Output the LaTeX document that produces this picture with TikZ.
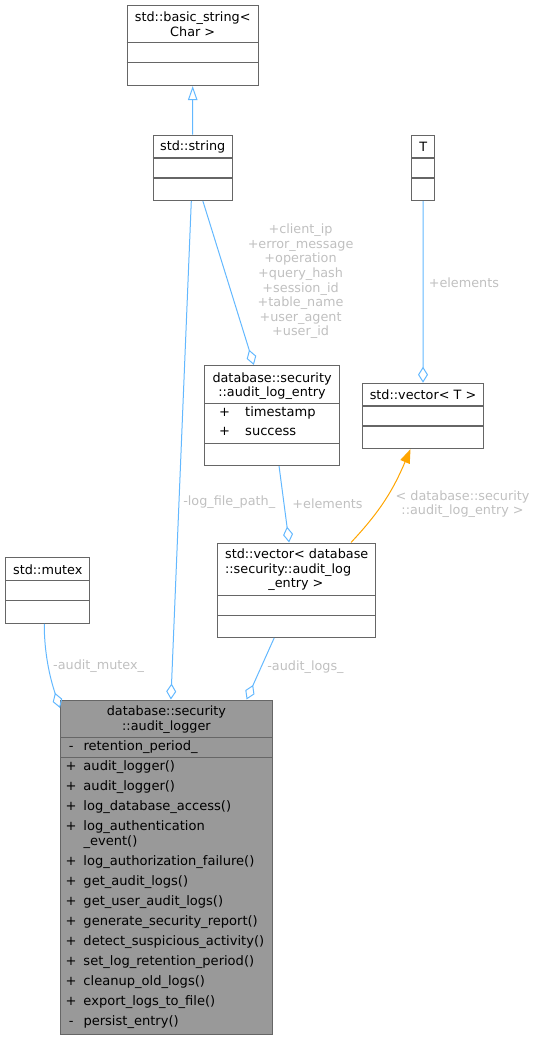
\documentclass[tikz,border=0pt]{standalone}
\usepackage{fontspec}
\setmainfont{DejaVu Sans}
\usetikzlibrary{arrows.meta,positioning}
\definecolor{boxgray}{HTML}{666666}
\definecolor{edgeblue}{HTML}{63B8FF}
\definecolor{tplorange}{HTML}{FFA500}
\definecolor{lblgray}{HTML}{C0C0C0}
\definecolor{mainfill}{HTML}{999999}
\newcommand{\docfont}{\fontsize{12.8}{14.6}\selectfont}
\newcommand{\rowfont}{\fontsize{13.05}{14.6}\selectfont}
\newcommand{\umlrow}[3][6.3pt]{\makebox[12pt]{#2}\hspace{#1}#3}
\tikzset{
  cls/.style={draw=boxgray, line width=1.1pt, anchor=north west, inner sep=0pt, fill=white},
  sep/.style={draw=boxgray, line width=1.1pt},
  title/.style={align=center, inner sep=0pt, font=\docfont},
  member/.style={anchor=west, inner sep=0pt, text height=9.5pt, text depth=2.5pt, font=\rowfont},
  lbl/.style={text=lblgray, align=center, inner sep=0pt, font=\docfont},
  agg/.style={draw=edgeblue, line width=1pt, -{Diamond[open, length=16pt, width=10pt]}},
  inh/.style={draw=edgeblue, line width=1pt, -{Triangle[open, length=14pt, width=9.5pt]}},
  tpl/.style={draw=tplorange, line width=1pt, -{Triangle[length=14pt, width=10pt]}},
}
\begin{document}
\begin{tikzpicture}[x=1pt, y=-1pt]
\useasboundingbox (0,0) rectangle (535,1040);

\node[cls, minimum width=130.9, minimum height=80] (basicstr) at (126.7,5) {};
\draw[sep] ([yshift=-37.7]basicstr.north west) -- ([yshift=-37.7]basicstr.north east);
\draw[sep] ([yshift=-57.7]basicstr.north west) -- ([yshift=-57.7]basicstr.north east);
\node[title] (basicstr-name) at ([yshift=-19]basicstr.north) {std::basic\_string<\\Char >};

\node[cls, minimum width=79.1, minimum height=65.3] (stdstr) at (152.6,134.7) {};
\draw[sep] ([yshift=-23.3]stdstr.north west) -- ([yshift=-23.3]stdstr.north east);
\draw[sep] ([yshift=-43.3]stdstr.north west) -- ([yshift=-43.3]stdstr.north east);
\node[title] (stdstr-name) at ([yshift=-12]stdstr.north) {std::string};

\node[cls, minimum width=22.9, minimum height=65.3] (tparam) at (411.2,134.7) {};
\draw[sep] ([yshift=-23.3]tparam.north west) -- ([yshift=-23.3]tparam.north east);
\draw[sep] ([yshift=-43.3]tparam.north west) -- ([yshift=-43.3]tparam.north east);
\node[title] (tparam-name) at ([yshift=-12]tparam.north) {T};

\node[cls, minimum width=135, minimum height=100] (entry) at (204,365) {};
\draw[sep] ([yshift=-38.3]entry.north west) -- ([yshift=-38.3]entry.north east);
\draw[sep] ([yshift=-78.3]entry.north west) -- ([yshift=-78.3]entry.north east);
\node[title] (entry-name) at ([yshift=-21.2]entry.north) {database::security\\::audit\_log\_entry};
\node[member] (entry-ts) at ([xshift=14.3, yshift=-48.3]entry.north west) {\umlrow[14.7pt]{+}{timestamp}};
\node[member] (entry-ok) at ([xshift=14.3, yshift=-67.3]entry.north west) {\umlrow[14.7pt]{+}{success}};

\node[cls, minimum width=121.3, minimum height=65.3] (vect) at (361.8,382.7) {};
\draw[sep] ([yshift=-23.3]vect.north west) -- ([yshift=-23.3]vect.north east);
\draw[sep] ([yshift=-43.3]vect.north west) -- ([yshift=-43.3]vect.north east);
\node[title] (vect-name) at ([yshift=-11.6]vect.north) {std::vector< T >};

\node[cls, minimum width=157.7, minimum height=94.3] (vecentry) at (217.3,542.5) {};
\draw[sep] ([yshift=-53.2]vecentry.north west) -- ([yshift=-53.2]vecentry.north east);
\draw[sep] ([yshift=-72.8]vecentry.north west) -- ([yshift=-72.8]vecentry.north east);
\node[title, align=left] (vecentry-name) at ([yshift=-27.5]vecentry.north) {std::vector< database\\::security::audit\_log\\\hspace*{43.3pt}\_entry >};

\node[cls, minimum width=84.2, minimum height=65.4] (mutex) at (5.1,557.3) {};
\draw[sep] ([yshift=-23.4]mutex.north west) -- ([yshift=-23.4]mutex.north east);
\draw[sep] ([yshift=-43.4]mutex.north west) -- ([yshift=-43.4]mutex.north east);
\node[title] (mutex-name) at ([yshift=-12]mutex.north) {std::mutex};

\node[cls, fill=mainfill, minimum width=211.7, minimum height=334.8] (logger) at (60,699.5) {};
\draw[sep] ([yshift=-38.2]logger.north west) -- ([yshift=-38.2]logger.north east);
\draw[sep] ([yshift=-58.2]logger.north west) -- ([yshift=-58.2]logger.north east);
\node[title] (logger-name) at ([yshift=-20.2]logger.north) {database::security\\::audit\_logger};
\node[member] (lgr-ret) at ([xshift=5, yshift=-47.2]logger.north west) {\umlrow{-}{retention\_period\_}};
\node[member] (lgr-m1) at ([xshift=5, yshift=-67.2]logger.north west) {\umlrow{+}{audit\_logger()}};
\node[member] (lgr-m2) at ([xshift=5, yshift=-87.2]logger.north west) {\umlrow{+}{audit\_logger()}};
\node[member] (lgr-m3) at ([xshift=5, yshift=-107.2]logger.north west) {\umlrow{+}{log\_database\_access()}};
\node[member] (lgr-m4) at ([xshift=5, yshift=-127.2]logger.north west) {\umlrow{+}{log\_authentication}};
\node[member] (lgr-m4b) at ([xshift=23.3, yshift=-142.2]logger.north west) {\_event()};
\node[member] (lgr-m5) at ([xshift=5, yshift=-162.2]logger.north west) {\umlrow{+}{log\_authorization\_failure()}};
\node[member] (lgr-m6) at ([xshift=5, yshift=-182.2]logger.north west) {\umlrow{+}{get\_audit\_logs()}};
\node[member] (lgr-m7) at ([xshift=5, yshift=-202.2]logger.north west) {\umlrow{+}{get\_user\_audit\_logs()}};
\node[member] (lgr-m8) at ([xshift=5, yshift=-222.2]logger.north west) {\umlrow{+}{generate\_security\_report()}};
\node[member] (lgr-m9) at ([xshift=5, yshift=-242.2]logger.north west) {\umlrow{+}{detect\_suspicious\_activity()}};
\node[member] (lgr-m10) at ([xshift=5, yshift=-262.2]logger.north west) {\umlrow{+}{set\_log\_retention\_period()}};
\node[member] (lgr-m11) at ([xshift=5, yshift=-282.2]logger.north west) {\umlrow{+}{cleanup\_old\_logs()}};
\node[member] (lgr-m12) at ([xshift=5, yshift=-302.2]logger.north west) {\umlrow{+}{export\_logs\_to\_file()}};
\node[member] (lgr-m13) at ([xshift=5, yshift=-322.2]logger.north west) {\umlrow{-}{persist\_entry()}};

\draw[inh] (stdstr.north) -- (basicstr.south);
\draw[agg] ([xshift=-1.4]stdstr.south) -- node[lbl, pos=0.605, anchor=west, xshift=3.8pt] (lfp-lbl) {-log\_file\_path\_} ([xshift=4.5]logger.north);
\draw[agg] ([xshift=10.2]stdstr.south) -- node[lbl, pos=0.49, anchor=west, xshift=19.4pt] (fields-lbl) {+client\_ip\\+error\_message\\+operation\\+query\_hash\\+session\_id\\+table\_name\\+user\_agent\\+user\_id} ([xshift=-18.2]entry.north);
\draw[agg] (tparam.south) -- node[lbl, pos=0.447, anchor=west, xshift=5.2pt] (tparam-lbl) {+elements} (vect.north);
\draw[agg] ([xshift=7]entry.south) -- node[lbl, pos=0.486, anchor=west, xshift=8pt] (entry-lbl) {+elements} ([xshift=-7.6]vecentry.north);
\draw[tpl] ([xshift=54.3]vecentry.north) .. controls +(30,-32) and +(-17,40) .. node[lbl, pos=0.5, anchor=west, xshift=9.5pt, yshift=-5.3pt] (tpl-lbl) {< database::security\\::audit\_log\_entry >} ([xshift=-12.5]vect.south);
\draw[agg] ([xshift=-22.5]vecentry.south) -- node[lbl, pos=0.48, anchor=west, xshift=5.9pt] (logs-lbl) {-audit\_logs\_} ([xshift=80.2]logger.north);
\draw[agg] ([xshift=-3.5]mutex.south) .. controls +(0,30) and +(-10,-30) .. node[lbl, pos=0.5, anchor=west, xshift=4.3pt] (mutex-lbl) {-audit\_mutex\_} ([yshift=-8.5]logger.north west);
\end{tikzpicture}
\end{document}
